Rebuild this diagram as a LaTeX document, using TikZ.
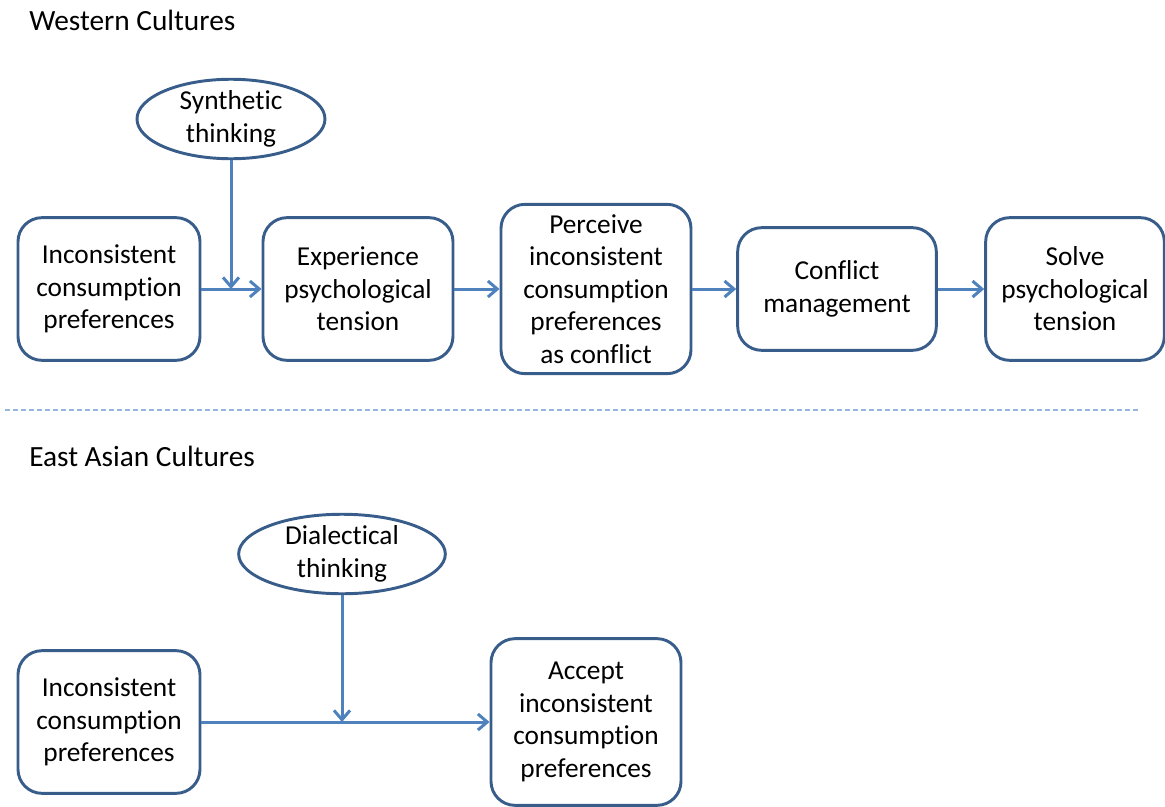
\documentclass[tikz,border=0pt]{standalone}
\usepackage{fontspec}
\setmainfont{Carlito}[Ligatures=NoCommon]
\usetikzlibrary{arrows.meta,shapes.geometric}
\definecolor{boxblue}{RGB}{56,93,138}
\definecolor{lineblue}{RGB}{79,129,189}
\definecolor{sepblue}{RGB}{150,182,222}
\newcommand{\txtsize}{\fontsize{20.5}{24.4}\selectfont}
\begin{document}
\begin{tikzpicture}[x=0.75pt,y=0.75pt,yscale=-1,xscale=1,
  stage/.style={draw=boxblue,line width=2.2pt,rounded corners=18pt,align=center,inner sep=0pt,font=\txtsize},
  mode/.style={ellipse,draw=boxblue,line width=2.2pt,align=center,inner sep=0pt,minimum width=141pt,minimum height=59pt,font=\txtsize},
  flow/.style={draw=lineblue,line width=2.25pt,-{Straight Barb[length=7pt,width=12pt]}},
  title/.style={anchor=west,inner sep=0pt,font=\fontsize{22}{26}\selectfont}]
\useasboundingbox (0,0) rectangle (1165,807);

% Text Node
\node [title] (west) at (29,20) {Western Cultures};
% Text Node
\node [title] (east) at (29,456) {East Asian Cultures};

%Shape: Rounded Rect (western row)
\node [stage,minimum width=136.5pt,minimum height=107pt] (w1) at (109,289) {Inconsistent\\consumption\\preferences};
\node [stage,minimum width=142.5pt,minimum height=107pt] (w2) at (358,289) {Experience\\psychological\\tension};
\node [stage,minimum width=142.5pt,minimum height=127pt] (w3) at (596,289) {Perceive\\inconsistent\\consumption\\preferences\\as conflict};
\node [stage,minimum width=149pt,minimum height=92pt] (w4) at (837,289) {Conflict\\management};
\node [stage,minimum width=134pt,minimum height=107pt] (w5) at (1075,289) {Solve\\psychological\\tension};
%Shape: Ellipse
\node [mode] (syn) at (231,119) {Synthetic\\thinking};

%Straight Lines
\draw [flow] (w1.east) -- (w2.west);
\draw [flow] (w2.east) -- (w3.west);
\draw [flow] (w3.east) -- (w4.west);
\draw [flow] (w4.east) -- (w5.west);
\draw [flow] (syn.south) -- (syn.south |- w1.east);

%Straight Lines (separator)
\coordinate (sepl) at (5,410);
\coordinate (sepr) at (1140,410);
\draw [sepblue,line width=1.5pt,dash pattern=on 3.75pt off 2.25pt] (sepl) -- (sepr);

%Shape: Rounded Rect (east asian row)
\node [stage,minimum width=136.5pt,minimum height=107pt] (e1) at (109,722) {Inconsistent\\consumption\\preferences};
\node [stage,minimum width=142.5pt,minimum height=125pt] (e2) at (586,722) {Accept\\inconsistent\\consumption\\preferences};
%Shape: Ellipse
\node [mode,minimum width=155pt] (dia) at (342,554) {Dialectical\\thinking};

%Straight Lines
\draw [flow] (e1.east) -- (e2.west);
\draw [flow] (dia.south) -- (dia.south |- e1.east);

\end{tikzpicture}
\end{document}
